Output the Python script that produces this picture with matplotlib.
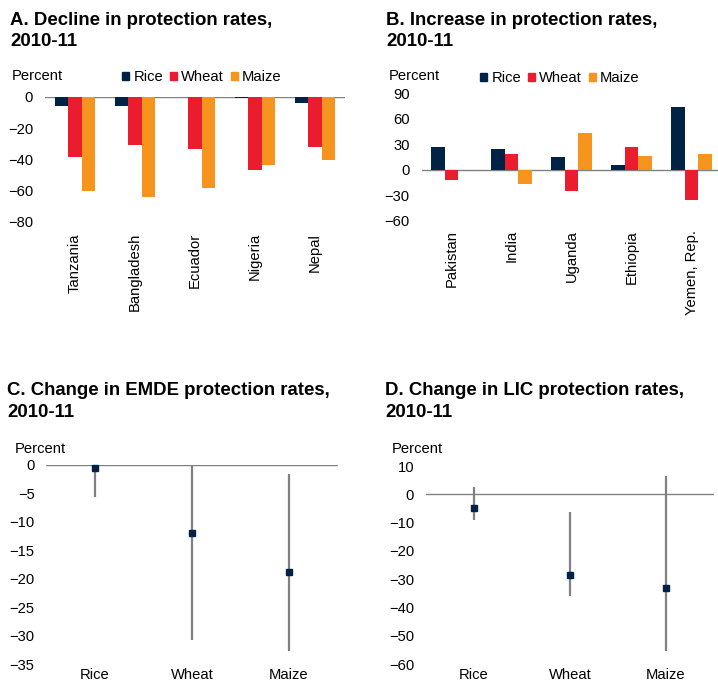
import matplotlib
matplotlib.use('Agg')
import matplotlib.pyplot as plt
from matplotlib.patches import Patch
import numpy as np

plt.rcParams['font.family'] = ['Liberation Sans', 'DejaVu Sans']

# Panel A: decline in protection rates
countries_a = ['Tanzania', 'Bangladesh', 'Ecuador', 'Nigeria', 'Nepal']
rice_a = [-5.9, -5.5, 0.0, -0.5, -3.8]
wheat_a = [-38.6, -30.6, -33.1, -47.0, -32.0]
maize_a = [-60.0, -63.7, -58.2, -43.5, -40.6]

# Panel B: increase in protection rates
countries_b = ['Pakistan', 'India', 'Uganda', 'Ethiopia', 'Yemen, Rep.']
rice_b = [27.4, 24.3, 14.9, 5.5, 73.6]
wheat_b = [-11.8, 19.2, -24.3, 26.6, -35.6]
maize_b = [0.0, -16.5, 43.5, 16.5, 18.4]

# Panels C and D: median with range
crops = ['Rice', 'Wheat', 'Maize']
emde_mid = [-0.5, -12.0, -18.8]
emde_low = [-5.7, -30.7, -32.8]
emde_high = [-0.2, 0.0, -1.5]
lic_mid = [-4.9, -28.4, -33.1]
lic_low = [-9.2, -35.8, -55.5]
lic_high = [2.6, -6.2, 6.4]

NAVY = '#002345'
RED = '#EB1C2D'
ORANGE = '#F7941D'
GREY = '#808080'
W, H = 718, 683
FS = 10.6

fig = plt.figure(figsize=(W / 100, H / 100), dpi=100)


def px_axes(left, right, top, bottom):
	return fig.add_axes([left / W, 1 - bottom / H, (right - left) / W, (bottom - top) / H])


def ftext(x, y, s, **kw):
	fig.text(x / W, 1 - y / H, s, **kw)


def title(x, lines):
	ftext(x, lines[0][1], lines[0][0], fontsize=13.4, fontweight='bold', va='baseline')
	ftext(x, lines[1][1], lines[1][0], fontsize=13.4, fontweight='bold', va='baseline')


def style(ax):
	for s in ax.spines.values():
		s.set_visible(False)
	ax.tick_params(length=0, labelsize=FS)
	ax.tick_params(axis='y', pad=8.6)


def bars(ax, rice, wheat, maize, names, pad):
	x = np.arange(len(names))
	w = 0.225
	ax.bar(x - w, rice, w, color=NAVY)
	ax.bar(x, wheat, w, color=RED)
	ax.bar(x + w, maize, w, color=ORANGE)
	ax.axhline(0, color=GREY, lw=1, zorder=0)
	ax.set_xlim(-0.5, 4.5)
	ax.set_xticks(x)
	ax.set_xticklabels(names, rotation=90, va='top', ha='center')
	style(ax)
	ax.tick_params(axis='x', pad=pad)


def legend(ax, x, y):
	handles = [Patch(color=NAVY, label='Rice'), Patch(color=RED, label='Wheat'),
			   Patch(color=ORANGE, label='Maize')]
	ax.legend(handles=handles, ncol=3, frameon=False, fontsize=FS,
			  loc='center left', bbox_to_anchor=(x / W, 1 - y / H),
			  bbox_transform=fig.transFigure, borderpad=0, borderaxespad=0,
			  handlelength=0.48, handleheight=0.48, handletextpad=0.3,
			  columnspacing=0.45)


def ranges(ax, mid, low, high):
	x = np.arange(len(crops))
	ax.vlines(x, low, high, color=GREY, lw=1.6, zorder=2)
	ax.plot(x, mid, 's', color=NAVY, ms=5, zorder=3, clip_on=False)
	ax.axhline(0, color=GREY, lw=1, zorder=1)
	ax.set_xlim(-0.5, 2.5)
	ax.set_xticks(x)
	ax.set_xticklabels(crops)
	style(ax)
	ax.tick_params(axis='x', pad=3)


# A
ax = px_axes(45, 345, 97, 222)
bars(ax, rice_a, wheat_a, maize_a, countries_a, 8)
ax.set_ylim(-80, 0)
ax.set_yticks(np.arange(-80, 1, 20))
title(10, [('A. Decline in protection rates,', 25), ('2010-11', 46)])
ftext(12, 80, 'Percent', fontsize=FS, va='baseline')
legend(ax, 122, 77)

# B
ax = px_axes(421.7, 721.7, 93.3, 221)
bars(ax, rice_b, wheat_b, maize_b, countries_b, 6.5)
ax.set_ylim(-60, 90)
ax.set_yticks(np.arange(-60, 91, 30))
title(386, [('B. Increase in protection rates,', 25), ('2010-11', 46)])
ftext(389, 80, 'Percent', fontsize=FS, va='baseline')
legend(ax, 480, 78)

# C
ax = px_axes(46.5, 337.5, 465, 664)
ranges(ax, emde_mid, emde_low, emde_high)
ax.set_ylim(-35, 0)
ax.set_yticks(np.arange(-35, 1, 5))
title(7, [('C. Change in EMDE protection rates,', 395), ('2010-11', 417)])
ftext(15, 453, 'Percent', fontsize=FS, va='baseline')

# D
ax = px_axes(426, 714, 466, 664)
ranges(ax, lic_mid, lic_low, lic_high)
ax.set_ylim(-60, 10)
ax.set_yticks(np.arange(-60, 11, 10))
title(385, [('D. Change in LIC protection rates,', 395), ('2010-11', 417)])
ftext(392, 453, 'Percent', fontsize=FS, va='baseline')

fig.savefig('out.png', dpi=100)
